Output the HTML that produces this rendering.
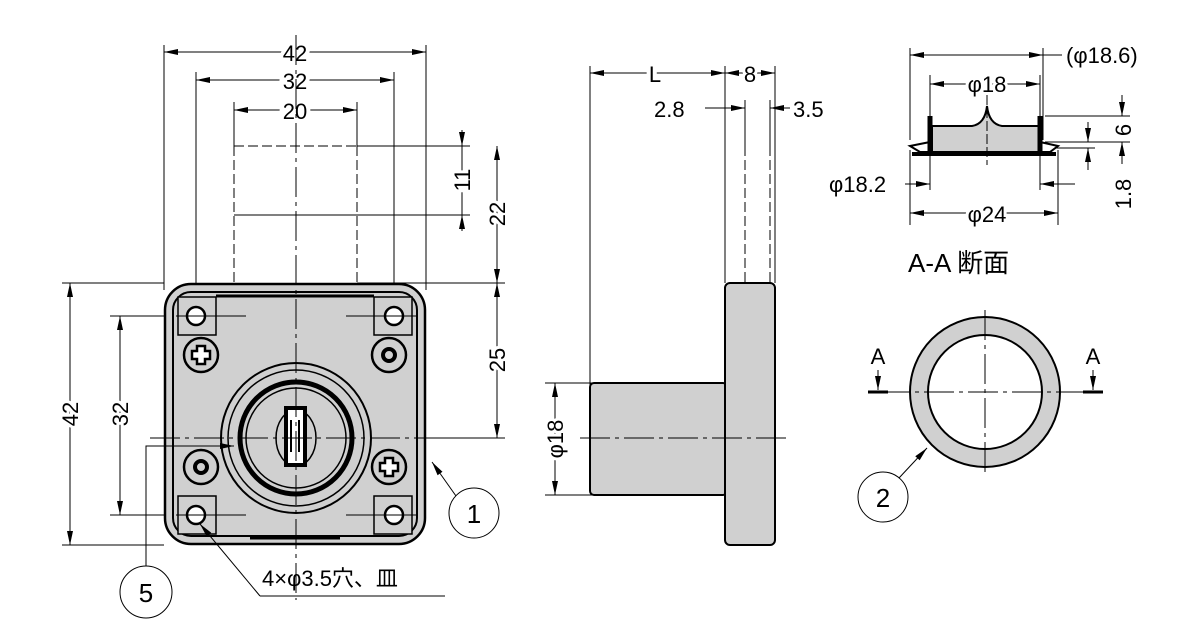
<!DOCTYPE html>
<html><head><meta charset="utf-8"><style>
html,body{margin:0;padding:0;background:#fff;}
svg{display:block;font-family:"Liberation Sans","Noto Sans CJK JP",sans-serif;}
</style></head><body>
<svg width="1180" height="635" viewBox="0 0 1180 635" xmlns="http://www.w3.org/2000/svg">
<g stroke="#000" stroke-width="1" fill="none">
<path d="M164 45V290M426 45V290M196 72V290M394 72V290M234 102V146M357 102V146"/>
<path d="M234 146V283M357 146V283M234 146H357" stroke-dasharray="10,4"/>
<path d="M234 215H357M357 146H470M357 215H470M357 283H505M426 438H505M62 283H164M62 545H164M110 316H200M110 515H200"/>
<path d="M164 52H426M196 80H394M234 110H357"/>
<path d="M462 130V231M497 146V438M70 283V545M120 316V515"/>
</g>
<g font-size="22" fill="#000">
<text x="295" y="61" text-anchor="middle" stroke="#fff" stroke-width="8" paint-order="stroke">42</text>
<text x="295" y="89" text-anchor="middle" stroke="#fff" stroke-width="8" paint-order="stroke">32</text>
<text x="295" y="119" text-anchor="middle" stroke="#fff" stroke-width="8" paint-order="stroke">20</text>
<text transform="translate(470,180) rotate(-90)" text-anchor="middle" stroke="#fff" stroke-width="6" paint-order="stroke">11</text>
<text transform="translate(505,214) rotate(-90)" text-anchor="middle" stroke="#fff" stroke-width="6" paint-order="stroke">22</text>
<text transform="translate(505,360) rotate(-90)" text-anchor="middle" stroke="#fff" stroke-width="6" paint-order="stroke">25</text>
<text transform="translate(78,414) rotate(-90)" text-anchor="middle" stroke="#fff" stroke-width="6" paint-order="stroke">42</text>
<text transform="translate(128,414) rotate(-90)" text-anchor="middle" stroke="#fff" stroke-width="6" paint-order="stroke">32</text>
</g>
<!-- front body -->
<rect x="165" y="284" width="260" height="260" rx="26" fill="#d0d0d0" stroke="#000" stroke-width="2.5"/>
<rect x="173" y="292" width="244" height="244" rx="18" fill="none" stroke="#000" stroke-width="2"/>
<path d="M216 296H374" stroke="#000" stroke-width="3"/>
<g fill="#d0d0d0" stroke="#000" stroke-width="1.5">
<rect x="178" y="297" width="38" height="38"/><rect x="374" y="297" width="38" height="38"/>
<rect x="178" y="496" width="38" height="38"/><rect x="374" y="496" width="38" height="38"/>
</g>
<g stroke="#000" fill="#fff" stroke-width="2.5">
<circle cx="196" cy="316" r="9"/><circle cx="394" cy="316" r="9"/><circle cx="196" cy="515" r="9"/><circle cx="394" cy="515" r="9"/>
</g>
<g stroke="#000" stroke-width="2.5" fill="#d0d0d0">
<circle cx="201" cy="355" r="17"/><circle cx="389" cy="355" r="17"/><circle cx="201" cy="467" r="17"/><circle cx="389" cy="467" r="17"/>
</g>
<circle cx="389" cy="355" r="6" fill="none" stroke="#000" stroke-width="4"/>
<circle cx="201" cy="467" r="6" fill="none" stroke="#000" stroke-width="4"/>
<path d="M197 346h8v5h5v8h-5v5h-8v-5h-5v-8h5z M385 458h8v5h5v8h-5v5h-8v-5h-5v-8h5z" fill="#fff" stroke="#000" stroke-width="2.5"/>
<path d="M250 538H340" stroke="#000" stroke-width="3"/>
<g fill="none" stroke="#000">
<circle cx="296" cy="438" r="75" stroke-width="2"/>
<circle cx="296" cy="438" r="68" stroke-width="1.5"/>
<circle cx="296" cy="438" r="56" stroke-width="5"/>
<circle cx="296" cy="438" r="50" stroke-width="1.5"/>
<ellipse cx="296" cy="438" rx="20" ry="28" stroke-width="1.5"/>
</g>
<rect x="286" y="408" width="19" height="57" fill="#fff" stroke="#000" stroke-width="4"/>
<path d="M291 420V452M299 420V452" stroke="#000" stroke-width="2"/>
<g stroke="#000" stroke-width="1" fill="none">
<path d="M296 35V600" stroke-dasharray="30,5,4,5"/>
<path d="M150 438H440" stroke-dasharray="30,5,4,5"/>
<path d="M176 316H246M346 316H416M176 515H246M346 515H416"/>
<path d="M146 566V446H234"/>
<path d="M456 496L432 462"/>
<path d="M260 596L200 524"/><path d="M260 596H445"/>
</g>
<circle cx="474" cy="513" r="25" fill="#fff" stroke="#000"/>
<text x="474" y="523" font-size="26" text-anchor="middle">1</text>
<circle cx="146" cy="592" r="26" fill="#fff" stroke="#000"/>
<text x="146" y="602" font-size="26" text-anchor="middle">5</text>
<text x="262" y="586" font-size="22">4×φ3.5穴、皿</text>

<!-- side view -->
<g stroke="#000" stroke-width="1" fill="none">
<path d="M590 66V385M725 66V283M775 66V283M745 100V146M770 100V146"/>
<path d="M745 146V283M770 146V283" stroke-dasharray="10,4"/>
<path d="M590 73H775"/>
<path d="M705 108H745M790 108H770"/>
<path d="M545 383H595M545 495H595"/>
<path d="M555 383V495"/>
</g>
<rect x="590" y="383" width="137" height="112" rx="4" fill="#d0d0d0" stroke="#000" stroke-width="2"/>
<rect x="725" y="283" width="50" height="262" rx="5" fill="#d0d0d0" stroke="#000" stroke-width="2"/>
<path d="M580 438H790" stroke="#000" stroke-dasharray="30,5,4,5"/>
<g font-size="22">
<text x="655" y="82" text-anchor="middle" stroke="#fff" stroke-width="8" paint-order="stroke">L</text>
<text x="750" y="82" text-anchor="middle" stroke="#fff" stroke-width="6" paint-order="stroke">8</text>
<text x="654" y="117">2.8</text>
<text x="793" y="117">3.5</text>
<text transform="translate(563,439) rotate(-90)" text-anchor="middle" stroke="#fff" stroke-width="6" paint-order="stroke">φ18</text>
</g>

<!-- section A-A -->
<g stroke="#000" stroke-width="1" fill="none">
<path d="M910 48V140M1043 48V140M930 75V120M1040 75V120M910 150V225M1058 150V225M930 155V190M1040 155V190"/>
<path d="M910 55H1062"/>
<path d="M930 84H1040"/>
<path d="M910 213H1058"/>
<path d="M905 184H930M1075 184H1040"/>
<path d="M1045 116H1130M1045 142H1130M1045 148H1095"/>
<path d="M1122 95V116M1122 164V142M1088 122V142M1088 170V148"/>
</g>
<path d="M932 126H972Q985 124 987 106Q989 124 1002 126H1040V152H932Z" fill="#d0d0d0" stroke="#000" stroke-width="2"/>
<path d="M910 146L930 142V152L920 152Z M1058 146L1040 142V152L1050 152Z" fill="#fff" stroke="#000" stroke-width="2"/>
<path d="M930 116V152M1040 116V152" stroke="#000" stroke-width="5"/>
<path d="M912 154H1056" stroke="#000" stroke-width="4"/>
<path d="M987 95V165" stroke="#000" stroke-dasharray="10,3"/>
<g font-size="22">
<text x="987" y="92" text-anchor="middle" stroke="#fff" stroke-width="6" paint-order="stroke">φ18</text>
<text x="1066" y="63">(φ18.6)</text>
<text x="829" y="192">φ18.2</text>
<text x="987" y="222" text-anchor="middle" stroke="#fff" stroke-width="6" paint-order="stroke">φ24</text>
<text transform="translate(1131,130) rotate(-90)" text-anchor="middle">6</text>
<text transform="translate(1131,194) rotate(-90)" text-anchor="middle">1.8</text>
<text x="908" y="272" font-size="26">A-A 断面</text>
</g>
<!-- ring -->
<circle cx="985" cy="392" r="66" fill="none" stroke="#d0d0d0" stroke-width="18"/>
<circle cx="985" cy="392" r="75" fill="none" stroke="#000" stroke-width="2"/>
<circle cx="985" cy="392" r="57" fill="none" stroke="#000" stroke-width="2"/>
<g stroke="#000" fill="none">
<path d="M880 392H1090" stroke-dasharray="30,5,4,5"/>
<path d="M985 310V475" stroke-dasharray="30,5,4,5"/>
<path d="M868 392H888M1083 392H1103" stroke-width="3"/>
<path d="M878 370V390M1093 370V390"/>
<path d="M899 478L927 448"/>
</g>
<text x="878" y="364" font-size="22" text-anchor="middle">A</text>
<text x="1093" y="364" font-size="22" text-anchor="middle">A</text>
<circle cx="883" cy="497" r="25" fill="#fff" stroke="#000"/>
<text x="883" y="507" font-size="26" text-anchor="middle">2</text>

<!-- arrowheads -->
<g fill="#000" stroke="none">
<path d="M0 0l-14-3v6z" transform="translate(164,52) rotate(180)"/>
<path d="M0 0l-14-3v6z" transform="translate(426,52)"/>
<path d="M0 0l-14-3v6z" transform="translate(196,80) rotate(180)"/>
<path d="M0 0l-14-3v6z" transform="translate(394,80)"/>
<path d="M0 0l-14-3v6z" transform="translate(234,110) rotate(180)"/>
<path d="M0 0l-14-3v6z" transform="translate(357,110)"/>
<path d="M0 0l-14-3v6z" transform="translate(462,146) rotate(90)"/>
<path d="M0 0l-14-3v6z" transform="translate(462,215) rotate(-90)"/>
<path d="M0 0l-14-3v6z" transform="translate(497,146) rotate(-90)"/>
<path d="M0 0l-14-3v6z" transform="translate(497,283) rotate(90)"/>
<path d="M0 0l-14-3v6z" transform="translate(497,283) rotate(-90)"/>
<path d="M0 0l-14-3v6z" transform="translate(497,438) rotate(90)"/>
<path d="M0 0l-14-3v6z" transform="translate(70,283) rotate(-90)"/>
<path d="M0 0l-14-3v6z" transform="translate(70,545) rotate(90)"/>
<path d="M0 0l-14-3v6z" transform="translate(120,316) rotate(-90)"/>
<path d="M0 0l-14-3v6z" transform="translate(120,515) rotate(90)"/>
<path d="M0 0l-14-3v6z" transform="translate(234,446)"/>
<path d="M0 0l-14-3v6z" transform="translate(432,462) rotate(-125)"/>
<path d="M0 0l-14-3v6z" transform="translate(200,524) rotate(-130)"/>
<path d="M0 0l-14-3v6z" transform="translate(590,73) rotate(180)"/>
<path d="M0 0l-14-3v6z" transform="translate(725,73)"/>
<path d="M0 0l-14-3v6z" transform="translate(725,73) rotate(180)"/>
<path d="M0 0l-14-3v6z" transform="translate(775,73)"/>
<path d="M0 0l-14-3v6z" transform="translate(745,108)"/>
<path d="M0 0l-14-3v6z" transform="translate(770,108) rotate(180)"/>
<path d="M0 0l-14-3v6z" transform="translate(555,383) rotate(-90)"/>
<path d="M0 0l-14-3v6z" transform="translate(555,495) rotate(90)"/>
<path d="M0 0l-14-3v6z" transform="translate(910,55) rotate(180)"/>
<path d="M0 0l-14-3v6z" transform="translate(1043,55)"/>
<path d="M0 0l-14-3v6z" transform="translate(930,84) rotate(180)"/>
<path d="M0 0l-14-3v6z" transform="translate(1040,84)"/>
<path d="M0 0l-14-3v6z" transform="translate(910,213) rotate(180)"/>
<path d="M0 0l-14-3v6z" transform="translate(1058,213)"/>
<path d="M0 0l-14-3v6z" transform="translate(930,184)"/>
<path d="M0 0l-14-3v6z" transform="translate(1040,184) rotate(180)"/>
<path d="M0 0l-14-3v6z" transform="translate(1122,116) rotate(90)"/>
<path d="M0 0l-14-3v6z" transform="translate(1122,142) rotate(-90)"/>
<path d="M0 0l-14-3v6z" transform="translate(1088,142) rotate(90)"/>
<path d="M0 0l-14-3v6z" transform="translate(1088,148) rotate(-90)"/>
<path d="M0 0l-14-3v6z" transform="translate(878,390) rotate(90)"/>
<path d="M0 0l-14-3v6z" transform="translate(1093,390) rotate(90)"/>
<path d="M0 0l-14-3v6z" transform="translate(927,448) rotate(-47)"/>
</g>
</svg>
</body></html>
